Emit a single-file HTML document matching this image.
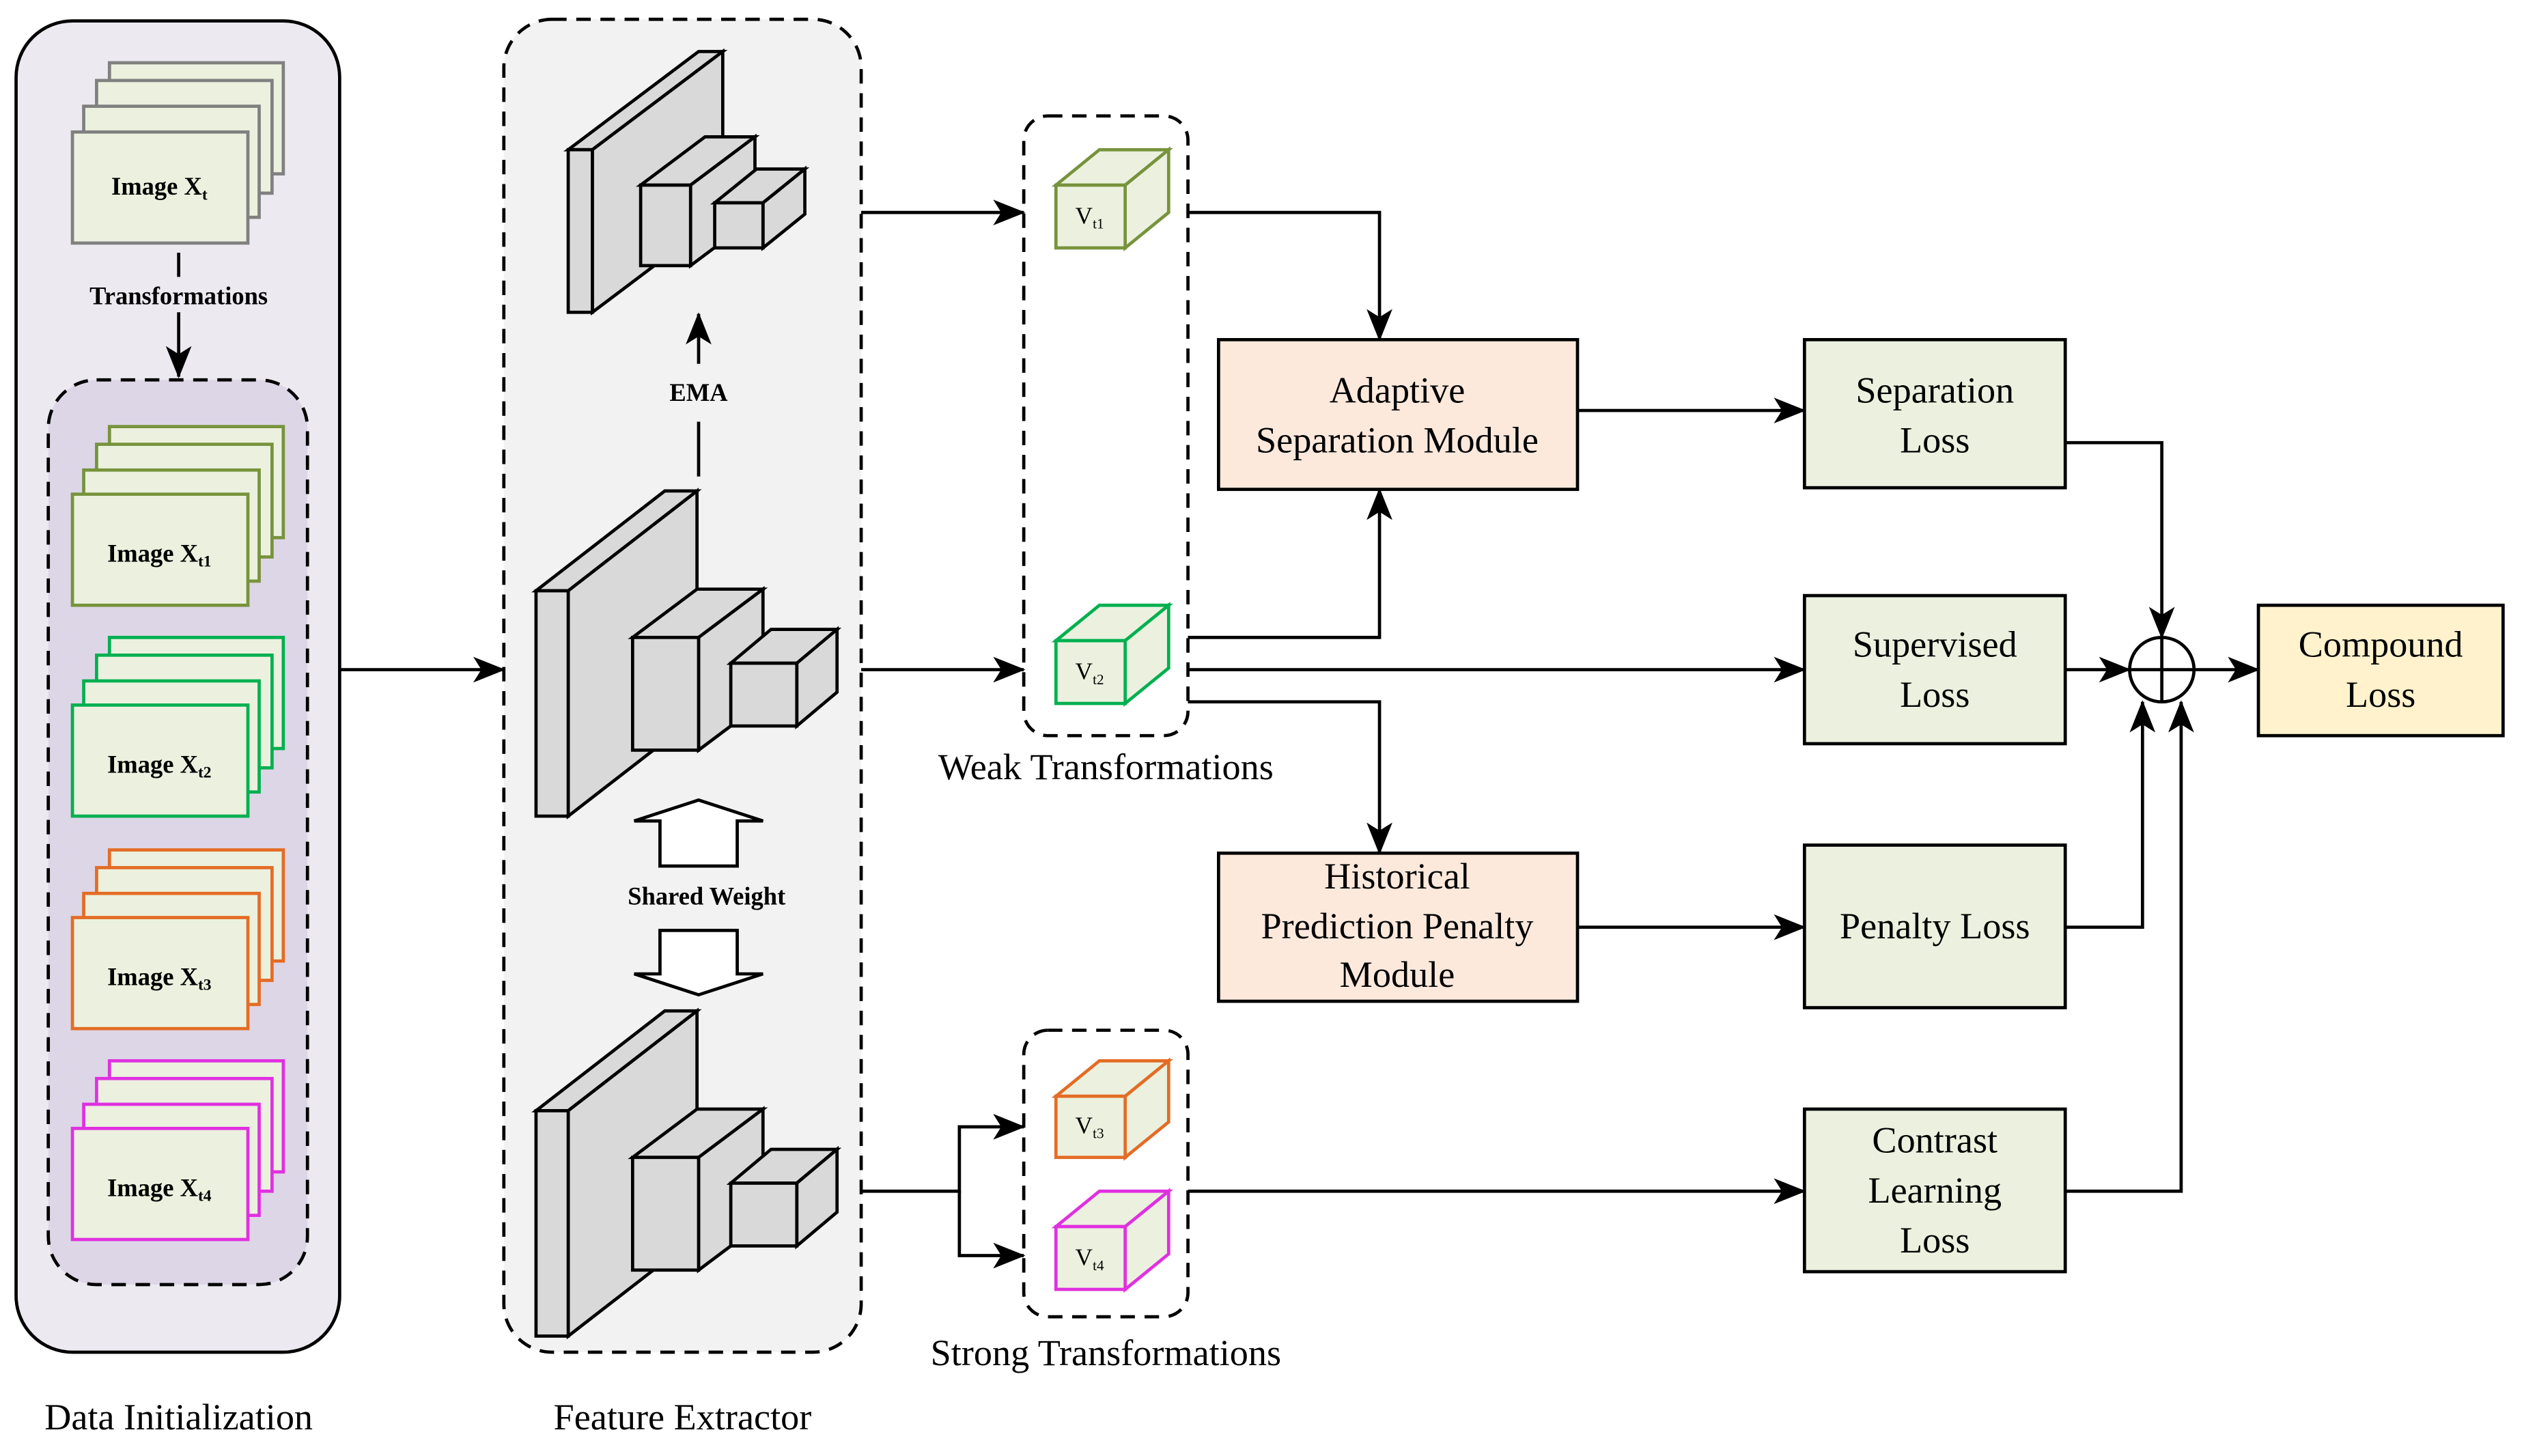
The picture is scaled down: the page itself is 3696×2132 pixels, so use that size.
<!DOCTYPE html>
<html><head><meta charset="utf-8"><style>
html,body{margin:0;padding:0;background:#fff}
svg{display:block}
text{font-family:"Liberation Serif","DejaVu Serif",serif;fill:#000}
.b{font-weight:bold;font-size:15.5px}
.t{font-size:23px}
</style></head><body>
<svg width="3696" height="2132" viewBox="0 0 1568 904.5" preserveAspectRatio="none" xmlns="http://www.w3.org/2000/svg" font-family="Liberation Serif, DejaVu Serif, serif">
<defs>
<marker id="a" markerUnits="userSpaceOnUse" markerWidth="20" markerHeight="16" refX="19" refY="8" orient="auto">
<path d="M0,0 L20,8 L0,16 L5,8 z" fill="#000"/>
</marker>
<g id="net" stroke="#000" stroke-width="2" fill="#d9d9d9" stroke-linejoin="miter">
<polygon points="0,0 20,0 100,-62 80,-62"/>
<polygon points="20,0 100,-62 100,78 20,140"/>
<rect x="0" y="0" width="20" height="140"/>
<polygon points="60,29 101,29 141,-1 100,-1"/>
<polygon points="101,29 141,-1 141,69 101,99"/>
<rect x="60" y="29" width="41" height="70"/>
<polygon points="121,45 162,45 187,24 146,24"/>
<polygon points="162,45 187,24 187,63 162,84"/>
<rect x="121" y="45" width="41" height="39"/>
</g>
</defs>

<!-- Data initialization -->
<rect x="10" y="13" width="201" height="827" rx="35" fill="#ece9f1" stroke="#000" stroke-width="2"/>
<rect x="30" y="236" width="161" height="562" rx="30" fill="#ddd6e6" stroke="#000" stroke-width="2" stroke-dasharray="9,6"/>

<g fill="#ebf1de" stroke-width="2">
<g stroke="#808080">
<rect x="68" y="39" width="108" height="69"/><rect x="60" y="50" width="109" height="70"/><rect x="52" y="66" width="109" height="69"/><rect x="45" y="82" width="109" height="69"/>
</g>
<g stroke="#77933c">
<rect x="68" y="265" width="108" height="69"/><rect x="60" y="276" width="109" height="70"/><rect x="52" y="292" width="109" height="69"/><rect x="45" y="307" width="109" height="69"/>
</g>
<g stroke="#00b050">
<rect x="68" y="396" width="108" height="69"/><rect x="60" y="407" width="109" height="70"/><rect x="52" y="423" width="109" height="69"/><rect x="45" y="438" width="109" height="69"/>
</g>
<g stroke="#e46c25">
<rect x="68" y="528" width="108" height="69"/><rect x="60" y="539" width="109" height="70"/><rect x="52" y="555" width="109" height="69"/><rect x="45" y="570" width="109" height="69"/>
</g>
<g stroke="#e030e0">
<rect x="68" y="659" width="108" height="69"/><rect x="60" y="670" width="109" height="70"/><rect x="52" y="686" width="109" height="69"/><rect x="45" y="701" width="109" height="69"/>
</g>
</g>
<text class="b" x="99" y="121" text-anchor="middle">Image X<tspan font-size="10" dy="3">t</tspan></text>
<text class="b" x="99" y="349" text-anchor="middle">Image X<tspan font-size="10" dy="3">t1</tspan></text>
<text class="b" x="99" y="480" text-anchor="middle">Image X<tspan font-size="10" dy="3">t2</tspan></text>
<text class="b" x="99" y="612" text-anchor="middle">Image X<tspan font-size="10" dy="3">t3</tspan></text>
<text class="b" x="99" y="743" text-anchor="middle">Image X<tspan font-size="10" dy="3">t4</tspan></text>
<line x1="111" y1="157" x2="111" y2="172" stroke="#000" stroke-width="2"/>
<text class="b" x="111" y="189" text-anchor="middle">Transformations</text>
<line x1="111" y1="194" x2="111" y2="234" stroke="#000" stroke-width="2" marker-end="url(#a)"/>

<!-- Feature extractor -->
<rect x="313" y="12" width="222" height="828" rx="30" fill="#f2f2f2" stroke="#000" stroke-width="2" stroke-dasharray="9,6"/>
<g stroke="#000" stroke-width="2" fill="#d9d9d9">
<polygon points="353,93 368,93 449,32 434,32"/>
<polygon points="368,93 449,32 449,133 368,194"/>
<rect x="353" y="93" width="15" height="101"/>
<polygon points="398,115 429,115 469,85 438,85"/>
<polygon points="429,115 469,85 469,135 429,165"/>
<rect x="398" y="115" width="31" height="50"/>
<polygon points="444,126 474,126 500,105 470,105"/>
<polygon points="474,126 500,105 500,133 474,154"/>
<rect x="444" y="126" width="30" height="28"/>
</g>
<use href="#net" x="333" y="367"/>
<use href="#net" x="333" y="690"/>
<line x1="434" y1="296" x2="434" y2="262" stroke="#000" stroke-width="2"/>
<line x1="434" y1="226" x2="434" y2="195" stroke="#000" stroke-width="2" marker-end="url(#a)"/>
<text class="b" x="434" y="249" text-anchor="middle">EMA</text>
<polygon points="434,497 474,510 458,510 458,538 410,538 410,510 394,510" fill="#fff" stroke="#000" stroke-width="2"/>
<text class="b" x="439" y="562" text-anchor="middle">Shared Weight</text>
<polygon points="434,618 474,605 458,605 458,578 410,578 410,605 394,605" fill="#fff" stroke="#000" stroke-width="2"/>

<line x1="211" y1="416" x2="313" y2="416" stroke="#000" stroke-width="2" marker-end="url(#a)"/>
<line x1="535" y1="132" x2="636" y2="132" stroke="#000" stroke-width="2" marker-end="url(#a)"/>
<line x1="535" y1="416" x2="636" y2="416" stroke="#000" stroke-width="2" marker-end="url(#a)"/>
<polyline points="535,740 596,740 596,700 636,700" fill="none" stroke="#000" stroke-width="2" marker-end="url(#a)"/>
<polyline points="596,740 596,780 636,780" fill="none" stroke="#000" stroke-width="2" marker-end="url(#a)"/>

<!-- Weak / strong boxes -->
<rect x="636" y="72" width="102" height="385" rx="15" fill="none" stroke="#000" stroke-width="2" stroke-dasharray="9,6"/>
<rect x="636" y="640" width="102" height="178" rx="15" fill="none" stroke="#000" stroke-width="2" stroke-dasharray="9,6"/>
<g fill="#ebf1de" stroke-width="2">
<g stroke="#77933c"><polygon points="656,115 683,93 726,93 699,115"/><polygon points="699,115 726,93 726,132 699,154"/><rect x="656" y="115" width="43" height="39"/></g>
<g stroke="#00b050"><polygon points="656,398 683,376 726,376 699,398"/><polygon points="699,398 726,376 726,415 699,437"/><rect x="656" y="398" width="43" height="39"/></g>
<g stroke="#e46c25"><polygon points="656,681 683,659 726,659 699,681"/><polygon points="699,681 726,659 726,697 699,719"/><rect x="656" y="681" width="43" height="38"/></g>
<g stroke="#e030e0"><polygon points="656,762 683,740 726,740 699,762"/><polygon points="699,762 726,740 726,779 699,801"/><rect x="656" y="762" width="43" height="39"/></g>
</g>
<text x="668" y="139" font-size="15">V<tspan font-size="9" dy="3">t1</tspan></text>
<text x="668" y="422" font-size="15">V<tspan font-size="9" dy="3">t2</tspan></text>
<text x="668" y="704" font-size="15">V<tspan font-size="9" dy="3">t3</tspan></text>
<text x="668" y="786" font-size="15">V<tspan font-size="9" dy="3">t4</tspan></text>
<text class="t" x="687" y="484" text-anchor="middle">Weak Transformations</text>
<text class="t" x="687" y="848" text-anchor="middle">Strong Transformations</text>
<text class="t" x="111" y="888" text-anchor="middle">Data Initialization</text>
<text class="t" x="424" y="888" text-anchor="middle">Feature Extractor</text>

<!-- connectors -->
<g fill="none" stroke="#000" stroke-width="2">
<polyline points="738,132 857,132 857,211" marker-end="url(#a)"/>
<polyline points="738,396 857,396 857,304" marker-end="url(#a)"/>
<polyline points="738,416 1121,416" marker-end="url(#a)"/>
<polyline points="738,436 857,436 857,530" marker-end="url(#a)"/>
<polyline points="738,740 1121,740" marker-end="url(#a)"/>
<polyline points="980,255 1121,255" marker-end="url(#a)"/>
<polyline points="980,576 1121,576" marker-end="url(#a)"/>
<polyline points="1283,275 1343,275 1343,396" marker-end="url(#a)"/>
<polyline points="1283,416 1323,416" marker-end="url(#a)"/>
<polyline points="1283,576 1331,576 1331,436" marker-end="url(#a)"/>
<polyline points="1283,740 1355,740 1355,436" marker-end="url(#a)"/>
<polyline points="1363,416 1403,416" marker-end="url(#a)"/>
</g>

<!-- modules -->
<g stroke="#000" stroke-width="2">
<rect x="757" y="211" width="223" height="93" fill="#fce9dc"/>
<rect x="757" y="530" width="223" height="92" fill="#fce9dc"/>
<rect x="1121" y="211" width="162" height="92" fill="#ebf1de"/>
<rect x="1121" y="370" width="162" height="92" fill="#ebf1de"/>
<rect x="1121" y="525" width="162" height="101" fill="#ebf1de"/>
<rect x="1121" y="689" width="162" height="101" fill="#ebf1de"/>
<rect x="1403" y="376" width="152" height="81" fill="#fff2cc"/>
<circle cx="1343" cy="416" r="20" fill="#fff"/>
<line x1="1323" y1="416" x2="1363" y2="416"/>
<line x1="1343" y1="396" x2="1343" y2="436"/>
</g>
<text class="t" x="868" y="250" text-anchor="middle">Adaptive</text>
<text class="t" x="868" y="281" text-anchor="middle">Separation Module</text>
<text class="t" x="868" y="552" text-anchor="middle">Historical</text>
<text class="t" x="868" y="583" text-anchor="middle">Prediction Penalty</text>
<text class="t" x="868" y="613" text-anchor="middle">Module</text>
<text class="t" x="1202" y="250" text-anchor="middle">Separation</text>
<text class="t" x="1202" y="281" text-anchor="middle">Loss</text>
<text class="t" x="1202" y="408" text-anchor="middle">Supervised</text>
<text class="t" x="1202" y="439" text-anchor="middle">Loss</text>
<text class="t" x="1202" y="583" text-anchor="middle">Penalty Loss</text>
<text class="t" x="1202" y="716" text-anchor="middle">Contrast</text>
<text class="t" x="1202" y="747" text-anchor="middle">Learning</text>
<text class="t" x="1202" y="778" text-anchor="middle">Loss</text>
<text class="t" x="1479" y="408" text-anchor="middle">Compound</text>
<text class="t" x="1479" y="439" text-anchor="middle">Loss</text>
</svg>
</body></html>
